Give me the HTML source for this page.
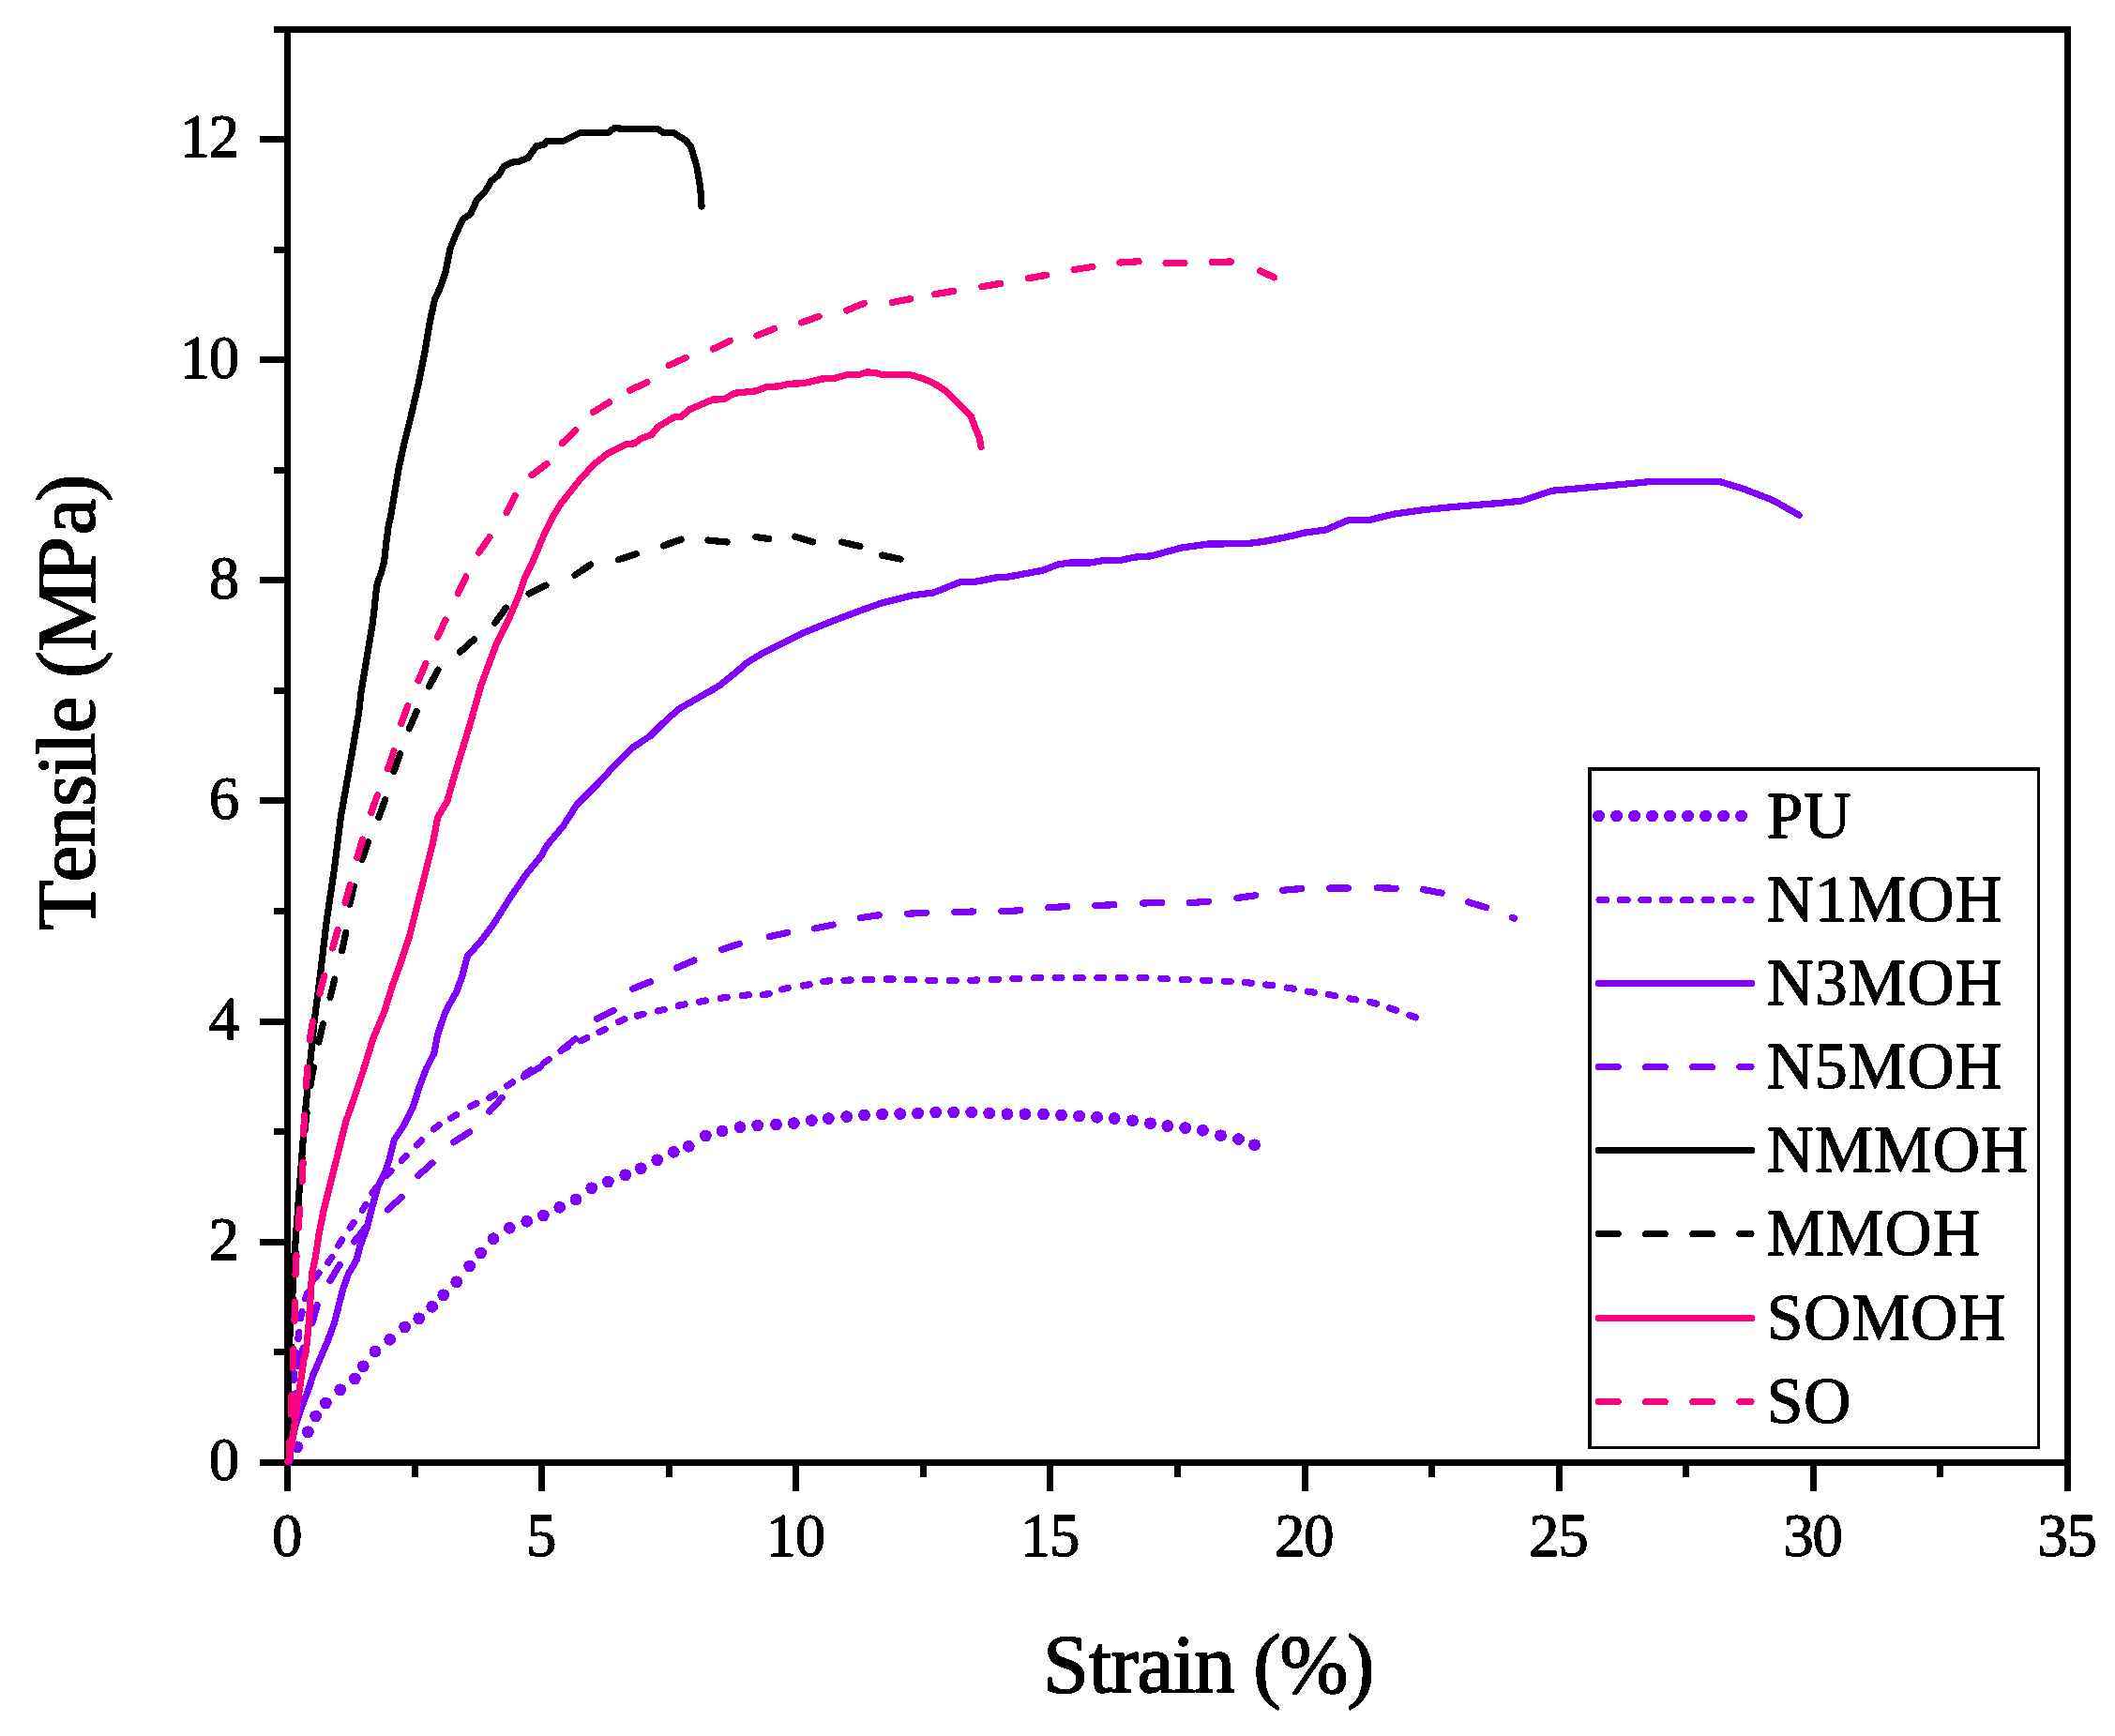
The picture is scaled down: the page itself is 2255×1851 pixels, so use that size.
<!DOCTYPE html>
<html lang="en"><head><meta charset="utf-8"><title>Tensile vs Strain</title>
<style>html,body{margin:0;padding:0;background:#fff}body{width:2255px;height:1851px;overflow:hidden}svg{display:block}text{font-family:"Liberation Serif","Times New Roman",serif;fill:#000}text{stroke:#000;stroke-width:1px;stroke-linejoin:round}.tk{font-size:65px;letter-spacing:-1.3px}.lg{font-size:70px;letter-spacing:.6px}.ax{font-size:88px;stroke-width:1.4px}.c{fill:none;stroke-linejoin:round;stroke-linecap:round;stroke-width:7}</style></head><body>
<svg width="2255" height="1851" viewBox="0 0 2255 1851">
<rect width="2255" height="1851" fill="#fff"/>
<defs><filter id="al" filterUnits="userSpaceOnUse" x="0" y="0" width="2255" height="1851" color-interpolation-filters="sRGB"><feComponentTransfer><feFuncA type="discrete" tableValues="0 0 1 1 1"/></feComponentTransfer></filter><clipPath id="fr"><rect x="303" y="28" width="1905" height="1535"/></clipPath></defs>
<g fill="#000">
<rect x="292" y="28" width="1916" height="7"/>
<rect x="277" y="1556" width="1931" height="7"/>
<rect x="303" y="28" width="7" height="1562"/>
<rect x="2201" y="28" width="7" height="1562"/>
<rect x="277" y="1556" width="27" height="7"/>
<rect x="277" y="1321" width="27" height="7"/>
<rect x="277" y="1086" width="27" height="7"/>
<rect x="277" y="850" width="27" height="7"/>
<rect x="277" y="615" width="27" height="7"/>
<rect x="277" y="380" width="27" height="7"/>
<rect x="277" y="145" width="27" height="7"/>
<rect x="292" y="1438" width="12" height="7"/>
<rect x="292" y="1203" width="12" height="7"/>
<rect x="292" y="968" width="12" height="7"/>
<rect x="292" y="733" width="12" height="7"/>
<rect x="292" y="498" width="12" height="7"/>
<rect x="292" y="263" width="12" height="7"/>
<rect x="303" y="1560" width="7" height="30"/>
<rect x="574" y="1560" width="7" height="30"/>
<rect x="845" y="1560" width="7" height="30"/>
<rect x="1116" y="1560" width="7" height="30"/>
<rect x="1388" y="1560" width="7" height="30"/>
<rect x="1659" y="1560" width="7" height="30"/>
<rect x="1930" y="1560" width="7" height="30"/>
<rect x="2201" y="1560" width="7" height="30"/>
<rect x="439" y="1560" width="7" height="15"/>
<rect x="710" y="1560" width="7" height="15"/>
<rect x="981" y="1560" width="7" height="15"/>
<rect x="1252" y="1560" width="7" height="15"/>
<rect x="1523" y="1560" width="7" height="15"/>
<rect x="1794" y="1560" width="7" height="15"/>
<rect x="2065" y="1560" width="7" height="15"/>
</g>
<g class="c" clip-path="url(#fr)">
<g fill="#7f00ff" stroke="none" filter="url(#al)"><circle cx="316.7" cy="1542.7" r="6.3"/><circle cx="328.3" cy="1526.7" r="6.3"/><circle cx="336.7" cy="1510.0" r="6.3"/><circle cx="347.3" cy="1496.0" r="6.3"/><circle cx="362.7" cy="1481.7" r="6.3"/><circle cx="378.3" cy="1470.0" r="6.3"/><circle cx="387.3" cy="1456.7" r="6.3"/><circle cx="400.0" cy="1441.0" r="6.3"/><circle cx="415.7" cy="1428.3" r="6.3"/><circle cx="431.7" cy="1415.0" r="6.3"/><circle cx="446.7" cy="1405.7" r="6.3"/><circle cx="460.7" cy="1393.3" r="6.3"/><circle cx="472.7" cy="1380.7" r="6.3"/><circle cx="486.7" cy="1366.7" r="6.3"/><circle cx="500.7" cy="1350.0" r="6.3"/><circle cx="512.7" cy="1336.0" r="6.3"/><circle cx="526.0" cy="1320.7" r="6.3"/><circle cx="543.3" cy="1309.3" r="6.3"/><circle cx="561.7" cy="1302.3" r="6.3"/><circle cx="579.3" cy="1296.0" r="6.3"/><circle cx="596.7" cy="1287.3" r="6.3"/><circle cx="614.0" cy="1279.0" r="6.3"/><circle cx="630.7" cy="1266.7" r="6.3"/><circle cx="648.3" cy="1260.0" r="6.3"/><circle cx="666.7" cy="1252.7" r="6.3"/><circle cx="683.3" cy="1245.7" r="6.3"/><circle cx="700.7" cy="1236.7" r="6.3"/><circle cx="718.3" cy="1228.3" r="6.3"/><circle cx="734.3" cy="1222.3" r="6.3"/><circle cx="752.3" cy="1211.0" r="6.3"/><circle cx="770.0" cy="1206.0" r="6.3"/><circle cx="789.0" cy="1201.7" r="6.3"/><circle cx="807.7" cy="1200.0" r="6.3"/><circle cx="827.5" cy="1199.0" r="6.3"/><circle cx="846.3" cy="1197.5" r="6.3"/><circle cx="865.4" cy="1194.5" r="6.3"/><circle cx="883.4" cy="1192.5" r="6.3"/><circle cx="902.7" cy="1190.5" r="6.3"/><circle cx="921.5" cy="1189.0" r="6.3"/><circle cx="940.6" cy="1188.0" r="6.3"/><circle cx="959.6" cy="1187.5" r="6.3"/><circle cx="978.6" cy="1187.0" r="6.3"/><circle cx="997.7" cy="1186.0" r="6.3"/><circle cx="1016.7" cy="1186.0" r="6.3"/><circle cx="1035.8" cy="1186.0" r="6.3"/><circle cx="1054.8" cy="1187.0" r="6.3"/><circle cx="1073.9" cy="1187.7" r="6.3"/><circle cx="1092.9" cy="1187.7" r="6.3"/><circle cx="1112.5" cy="1188.0" r="6.3"/><circle cx="1131.5" cy="1189.0" r="6.3"/><circle cx="1150.6" cy="1190.0" r="6.3"/><circle cx="1169.6" cy="1191.2" r="6.3"/><circle cx="1188.2" cy="1192.5" r="6.3"/><circle cx="1207.5" cy="1194.7" r="6.3"/><circle cx="1226.5" cy="1197.7" r="6.3"/><circle cx="1244.8" cy="1200.5" r="6.3"/><circle cx="1263.6" cy="1202.5" r="6.3"/><circle cx="1282.4" cy="1205.3" r="6.3"/><circle cx="1301.5" cy="1210.8" r="6.3"/><circle cx="1320.5" cy="1214.5" r="6.3"/><circle cx="1337.5" cy="1220.8" r="6.3"/></g>
<path d="M308.3 1559.5L308.7 1552.5M309.3 1537.5L309.7 1530.5M310.3 1515.5L310.7 1508.5M311.8 1493.5L312.2 1486.5M313.2 1471.5L313.8 1464.5M315.4 1449.5L316.2 1442.5M317.9 1427.5L318.7 1420.5M320.6 1405.6L322.0 1398.8M325.5 1384.7L328.1 1378.1M336.2 1362.9L340.0 1357.1M349.9 1346.2L353.9 1340.4M360.8 1328.0L364.6 1322.0M373.2 1309.1L377.2 1303.3M386.3 1290.3L390.1 1284.5M397.0 1272.1L401.0 1266.5M412.1 1253.6L416.9 1248.4M428.3 1237.5L433.3 1232.5M444.6 1220.8L449.6 1216.0M462.6 1203.8L468.2 1199.6M480.7 1192.2L486.7 1188.6M501.7 1179.9L507.9 1176.7M521.8 1170.4L527.8 1166.8M540.7 1157.8L546.5 1153.8M560.2 1144.7L566.2 1140.9M579.6 1133.4L585.4 1129.6M599.5 1119.5L605.5 1115.9M619.4 1109.7L625.8 1106.7M639.0 1100.5L645.2 1097.3M659.5 1089.4L665.9 1086.8M679.3 1083.0L686.1 1081.2M701.4 1077.9L708.2 1076.3M723.2 1072.3L730.0 1070.9M745.7 1068.2L752.5 1067.0M768.2 1064.3L775.2 1063.3M791.5 1061.4L798.5 1060.8M813.3 1060.7L820.3 1059.5M833.6 1054.9L840.4 1053.3M856.2 1051.0L863.0 1049.8M877.9 1046.5L884.9 1045.7M900.0 1045.2L907.0 1045.0M922.5 1044.5L929.5 1044.3M945.1 1044.1L952.1 1044.1M967.4 1044.5L974.4 1044.7M989.9 1045.3L996.9 1045.5M1012.2 1045.4L1019.2 1045.4M1034.8 1045.2L1041.8 1045.0M1057.4 1044.5L1064.4 1044.3M1079.9 1043.7L1086.9 1043.5M1102.5 1042.7L1109.5 1042.5M1125.0 1042.6L1132.0 1042.6M1147.3 1042.6L1154.3 1042.6M1169.9 1042.6L1176.9 1042.6M1192.4 1042.6L1199.4 1042.6M1215.0 1042.5L1222.0 1042.7M1237.6 1043.5L1244.6 1043.7M1260.1 1044.3L1267.1 1044.5M1282.7 1045.2L1289.7 1045.6M1305.2 1046.2L1312.2 1046.6M1327.3 1047.6L1334.3 1048.2M1349.8 1049.9L1356.8 1050.7M1372.2 1053.1L1379.2 1054.3M1394.2 1057.1L1401.2 1058.3M1416.5 1060.4L1423.5 1061.6M1438.9 1064.7L1445.7 1065.9M1460.6 1068.4L1467.4 1070.2M1481.7 1074.9L1488.3 1077.1M1502.7 1082.5L1509.3 1084.9" stroke="#7f00ff" filter="url(#al)"/>
<polyline points="308.3,1558.3 310.0,1543.3 315.0,1520.0 321.7,1500.0 328.3,1483.3 333.8,1466.0 341.4,1448.5 348.9,1431.0 356.4,1410.9 360.2,1395.9 365.2,1375.8 371.4,1358.3 380.2,1343.3 384.0,1328.2 391.5,1308.2 396.5,1288.1 402.8,1265.6 410.3,1250.5 415.3,1235.5 420.3,1215.4 430.3,1200.4 440.4,1180.4 446.6,1160.3 454.1,1140.3 462.9,1122.7 466.7,1102.7 475.4,1077.6 486.7,1057.5 493.0,1040.0 498.3,1019.7 511.7,1004.7 526.7,984.7 543.3,958.0 561.7,931.3 576.7,913.0 583.3,901.3 600.0,881.3 615.0,858.0 636.7,836.3 656.7,814.7 673.3,798.0 693.3,784.7 706.7,771.3 723.3,756.3 743.3,744.7 766.7,731.3 783.3,718.0 796.7,706.3 813.3,696.3 830.0,688.0 856.7,674.7 890.0,661.3 916.7,651.3 940.0,643.0 973.3,634.7 995.0,632.0 1008.3,626.7 1023.3,620.7 1040.0,620.3 1061.7,616.0 1075.0,615.0 1111.7,608.3 1128.3,601.7 1141.7,600.0 1161.7,600.0 1178.3,597.3 1195.0,597.3 1208.3,594.3 1228.3,592.7 1258.3,584.3 1288.3,580.0 1328.3,579.7 1348.3,577.3 1368.3,573.3 1391.7,568.0 1413.3,565.0 1438.3,554.3 1461.7,554.0 1485.0,548.3 1515.0,544.0 1555.0,540.0 1595.0,536.7 1621.7,534.3 1655.0,523.3 1700.0,519.3 1760.0,513.5 1833.3,513.5 1860.0,521.7 1890.0,533.3 1918.3,549.3" stroke="#7f00ff" filter="url(#al)"/>
<path d="M309.2 1556.0L310.8 1536.0M312.9 1505.9L315.1 1486.1M318.8 1456.8L323.2 1437.2M333.0 1410.5L338.2 1391.3M351.9 1365.6L362.3 1348.4M377.7 1323.8L390.3 1308.2M413.3 1289.8L428.3 1276.4M445.9 1253.5L460.9 1240.1M483.8 1217.8L500.6 1207.0M521.9 1185.2L535.3 1170.4M558.5 1148.0L575.9 1138.0M598.0 1120.2L613.6 1107.6M636.5 1086.4L654.3 1077.4M674.7 1054.2L693.3 1046.8M721.5 1032.0L739.9 1024.0M769.5 1012.3L788.5 1006.3M820.2 998.6L839.8 994.4M868.6 989.9L888.2 986.1M917.4 978.6L937.2 975.8M967.4 974.2L987.4 973.2M1017.8 972.4L1037.8 972.0M1067.9 971.7L1087.9 970.7M1117.8 967.8L1137.8 966.6M1167.9 965.6L1187.9 964.8M1218.5 963.0L1238.5 962.4M1268.6 962.6L1288.6 961.2M1318.9 957.5L1338.7 954.7M1367.7 949.2L1387.7 947.4M1417.7 947.1L1437.7 946.9M1468.3 946.7L1488.3 947.3M1517.5 948.5L1537.1 952.1M1565.4 961.8L1584.6 967.6M1612.5 978.4L1614.5 979.2" stroke="#7f00ff" filter="url(#al)"/>
<polyline points="306.5,1559.0 308.3,1433.0 311.3,1391.0 313.8,1340.8 317.5,1290.6 321.3,1240.5 325.0,1190.0 330.0,1140.0 335.0,1090.0 341.4,1040.0 348.3,981.3 356.7,924.7 363.3,871.3 373.3,814.7 382.6,760.0 384.9,738.6 387.8,721.3 390.7,704.0 393.6,686.7 396.5,669.4 398.8,652.2 400.5,634.9 402.2,622.2 406.8,609.5 409.7,598.0 412.0,577.3 414.3,560.0 416.7,550.0 425.0,500.0 430.0,476.7 438.3,443.3 446.7,406.7 453.3,373.3 458.3,343.3 463.3,320.0 470.0,305.0 475.0,290.0 480.0,265.0 486.7,248.3 494.0,233.3 501.7,228.3 508.3,213.3 518.3,202.7 523.3,193.3 531.7,186.7 537.3,177.3 545.0,173.3 553.3,172.3 563.3,168.3 571.7,155.7 580.0,154.3 583.3,150.3 601.7,150.0 618.3,141.5 648.5,141.5 655.0,136.4 666.7,137.5 701.7,137.5 706.7,141.3 718.3,141.7 730.7,149.3 736.7,156.7 742.7,176.7 746.7,200.0 748.0,220.0" stroke="#000" filter="url(#al)"/>
<path d="M306.7 1556.0L307.3 1536.0M308.2 1506.0L308.8 1486.0M310.1 1456.0L310.9 1436.0M312.1 1406.0L312.9 1386.0M314.5 1356.0L315.5 1336.0M317.3 1306.0L318.7 1286.0M321.2 1256.0L322.8 1236.0M324.9 1205.9L327.1 1186.1M330.9 1157.7L334.3 1137.9M339.8 1111.1L344.4 1091.7M352.0 1063.5L356.8 1044.1M364.7 1013.8L368.7 994.2M372.7 964.4L377.3 945.0M386.0 916.7L392.6 897.9M403.9 871.4L410.7 852.6M420.0 822.7L426.6 803.9M436.3 776.9L444.3 758.5M457.5 731.8L467.1 714.2M490.6 695.2L505.4 681.8M527.7 664.2L539.5 648.2M564.0 633.0L582.0 624.2M613.1 613.2L629.7 602.0M659.5 596.6L678.5 590.6M707.4 581.9L726.2 575.1M755.0 576.1L775.0 577.9M805.7 572.5L819.5 574.5M847.6 572.2L866.8 577.8M897.6 578.1L917.0 582.5M940.4 592.0L960.0 596.2" stroke="#000" filter="url(#al)"/>
<polyline points="306.7,1558.3 308.0,1556.0 311.0,1540.0 316.7,1500.0 323.8,1450.0 326.3,1441.0 328.8,1416.0 330.6,1390.9 332.6,1358.3 336.3,1340.8 340.1,1315.7 345.1,1290.6 351.4,1265.6 360.2,1230.5 368.9,1195.4 377.7,1170.3 387.7,1140.3 397.7,1107.7 410.0,1078.0 418.3,1051.3 426.7,1028.0 436.7,998.0 445.0,964.7 453.3,931.3 461.7,898.0 466.7,871.3 476.7,854.7 483.3,831.3 493.3,798.0 503.3,764.7 512.7,731.3 520.0,711.3 530.0,684.7 543.3,658.0 553.3,634.7 560.0,614.7 568.3,598.0 580.0,570.0 590.0,550.0 598.3,536.7 616.7,513.3 633.3,495.0 648.3,483.3 666.7,474.0 676.7,472.7 683.3,467.7 695.0,463.3 701.7,455.0 718.3,445.0 726.7,444.0 735.0,436.7 760.0,426.0 771.7,425.7 783.3,419.3 806.7,416.7 816.7,412.7 831.7,411.7 840.0,409.3 856.7,408.7 876.7,404.0 890.0,403.3 903.3,399.5 916.7,399.2 923.3,397.0 933.3,397.3 940.0,399.5 970.0,399.5 983.3,403.3 995.0,408.3 1008.3,416.7 1021.7,430.0 1035.0,443.3 1040.0,456.7 1044.3,466.7 1046.0,476.7" stroke="#ff007f" filter="url(#al)"/>
<path d="M308.1 1557.0L308.9 1537.0M310.1 1508.0L310.9 1488.0M312.1 1458.5L312.9 1438.5M314.0 1408.4L314.6 1388.4M315.0 1358.8L316.0 1338.8M318.1 1309.4L319.5 1289.4M322.1 1259.3L323.1 1239.3M323.7 1209.1L324.5 1189.1M326.3 1158.3L327.9 1138.3M330.2 1108.8L333.4 1089.0M340.8 1059.7L345.8 1040.3M354.6 1010.9L360.0 991.7M368.1 962.6L373.3 943.4M380.9 914.3L386.5 895.1M395.7 866.7L402.3 847.9M413.5 819.8L419.9 800.8M427.9 771.4L434.7 752.6M446.1 725.9L453.9 707.5M466.5 679.4L474.9 661.2M488.2 632.9L496.8 614.9M510.6 589.2L522.0 572.8M540.1 546.3L549.3 528.5M567.0 506.6L583.0 494.6M599.4 472.6L613.8 458.8M632.4 439.4L649.4 429.0M671.7 416.1L689.9 407.7M713.0 389.6L731.2 381.4M760.5 372.0L778.5 363.4M807.0 357.8L825.6 350.6M854.3 344.0L873.1 337.4M902.8 330.9L921.4 323.3M951.2 322.4L970.8 318.8M996.8 313.7L1016.6 310.3M1046.8 305.7L1066.6 302.3M1096.2 296.8L1115.8 293.2M1145.1 287.6L1164.9 284.4M1194.0 279.9L1214.0 278.7M1243.0 280.3L1263.0 280.3M1292.3 279.5L1312.3 279.1M1343.2 288.8L1358.5 295.8" stroke="#ff007f" filter="url(#al)"/>
</g>
<g class="tk" text-anchor="end" filter="url(#al)">
<text x="254" y="1578.4">0</text>
<text x="254" y="1343.2">2</text>
<text x="254" y="1108.1">4</text>
<text x="254" y="872.9">6</text>
<text x="254" y="637.7">8</text>
<text x="254" y="402.6">10</text>
<text x="254" y="167.4">12</text>
</g>
<g class="tk" text-anchor="middle" filter="url(#al)">
<text x="305.5" y="1658.9">0</text>
<text x="576.6" y="1658.9">5</text>
<text x="847.8" y="1658.9">10</text>
<text x="1118.9" y="1658.9">15</text>
<text x="1390.1" y="1658.9">20</text>
<text x="1661.2" y="1658.9">25</text>
<text x="1932.4" y="1658.9">30</text>
<text x="2203.5" y="1658.9">35</text>
</g>
<g filter="url(#al)">
<text class="ax" x="1112.1 1161.1 1184.2 1212.2 1249.9 1273 1315.6 1336.3 1364.2 1436.2" y="1804">Strain (%)</text>
<text class="ax" transform="translate(100.5 992) rotate(-90)" x="0 51.6 88.5 131.9 164.5 186.9 210.4 248.3 269.1 297.1 371.1 421.8 457.1">Tensile (MPa)</text>
</g>
<g fill="#000"><rect x="1693" y="818" width="482" height="4"/><rect x="1693" y="818" width="4" height="727"/><rect x="2172" y="818" width="3" height="727"/><rect x="1693" y="1542" width="482" height="3"/></g>
<g class="c">
<g fill="#7f00ff" stroke="none" filter="url(#al)"><circle cx="1704.6" cy="870" r="6.3"/><circle cx="1723.6" cy="870" r="6.3"/><circle cx="1742.6" cy="870" r="6.3"/><circle cx="1761.6" cy="870" r="6.3"/><circle cx="1780.6" cy="870" r="6.3"/><circle cx="1799.6" cy="870" r="6.3"/><circle cx="1818.6" cy="870" r="6.3"/><circle cx="1837.6" cy="870" r="6.3"/><circle cx="1856.6" cy="870" r="6.3"/></g>
<line x1="1705" y1="959.5" x2="1867" y2="959.5" stroke="#7f00ff" stroke-dasharray="7.8 14.6" filter="url(#al)"/>
<line x1="1704.5" y1="1048.5" x2="1867.5" y2="1048.5" stroke="#7f00ff" filter="url(#al)"/>
<line x1="1704.5" y1="1137.5" x2="1867" y2="1137.5" stroke="#7f00ff" stroke-dasharray="20.7 29.4" filter="url(#al)"/>
<line x1="1704.5" y1="1226.5" x2="1867.5" y2="1226.5" stroke="#000" filter="url(#al)"/>
<line x1="1704.5" y1="1315.5" x2="1867" y2="1315.5" stroke="#000" stroke-dasharray="20.7 29.4" filter="url(#al)"/>
<line x1="1704.5" y1="1405.5" x2="1867.5" y2="1405.5" stroke="#ff007f" filter="url(#al)"/>
<line x1="1704.5" y1="1494.5" x2="1867" y2="1494.5" stroke="#ff007f" stroke-dasharray="20.7 29.4" filter="url(#al)"/>
</g>
<g class="lg" filter="url(#al)">
<text x="1883.6" y="892.9">PU</text>
<text x="1883.6" y="982.4">N1MOH</text>
<text x="1883.6" y="1071.4">N3MOH</text>
<text x="1883.6" y="1160.4">N5MOH</text>
<text x="1883.6" y="1249.4">NMMOH</text>
<text x="1883.6" y="1338.4">MMOH</text>
<text x="1883.6" y="1428.4">SOMOH</text>
<text x="1883.6" y="1517.4">SO</text>
</g>
</svg></body></html>
